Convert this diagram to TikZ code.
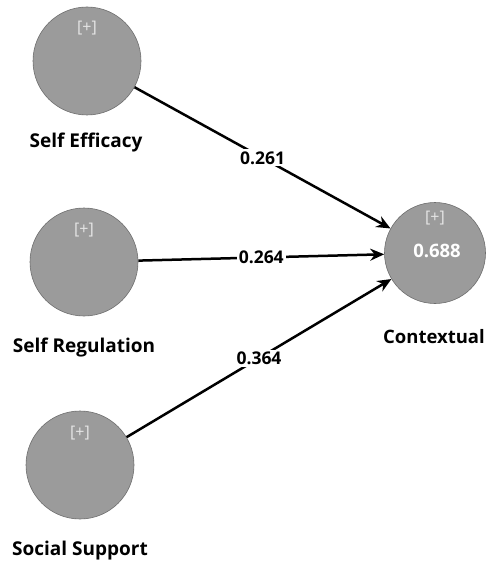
\documentclass[tikz,border=0pt]{standalone}
\usepackage{fontspec}
\setmainfont{Open Sans}
\usetikzlibrary{arrows.meta}
\definecolor{lvfill}{RGB}{155,155,155}
\definecolor{lvedge}{RGB}{110,110,110}
\definecolor{plus}{RGB}{230,230,230}
\tikzset{
  lv/.style={circle,fill=lvfill,draw=lvedge,line width=0.6pt,minimum size=108pt,inner sep=0pt},
  lvsmall/.style={circle,fill=lvfill,draw=lvedge,line width=0.6pt,minimum size=101pt,inner sep=0pt},
  lvname/.style={font=\bfseries\fontsize{19}{21}\selectfont,text=black},
  plustext/.style={font=\fontsize{16}{18}\selectfont,text=plus},
  coef/.style={font=\bfseries\fontsize{17.5}{19}\selectfont,fill=white,inner sep=2pt},
  path/.style={line width=2.5pt,-{Stealth[length=14pt,width=12pt]}},
}
\begin{document}
\begin{tikzpicture}[x=1pt,y=-1pt]
\useasboundingbox (0,0) rectangle (487,564);
\node[lv] (se) at (87,61) {};
\node[lv] (sr) at (84,262) {};
\node[lv] (ss) at (80,465) {};
\node[lvsmall] (ct) at (435,253) {};
\node[plustext] (sep) at (87,28) {[+]};
\node[plustext] (srp) at (84,230) {[+]};
\node[plustext] (ssp) at (80,433) {[+]};
\node[plustext] (ctp) at (435,218) {[+]};
\node[font=\bfseries\fontsize{18.5}{20}\selectfont,text=white] (ctr) at (437,251) {0.688};
\node[lvname] (sel) at (86,143) {Self Efficacy};
\node[lvname] (srl) at (84,348) {Self Regulation};
\node[lvname] (ssl) at (80,551) {Social Support};
\node[lvname,font=\bfseries\fontsize{18.5}{21}\selectfont,anchor=east,inner sep=1pt] (ctl) at (486,337) {Contextual};
\draw[path] (se) -- node[coef,pos=0.5] (c1) {0.261} (ct);
\draw[path] (sr) -- node[coef,pos=0.5] (c2) {0.264} (ct);
\draw[path] (ss) -- node[coef,pos=0.5] (c3) {0.364} (ct);
\end{tikzpicture}
\end{document}
